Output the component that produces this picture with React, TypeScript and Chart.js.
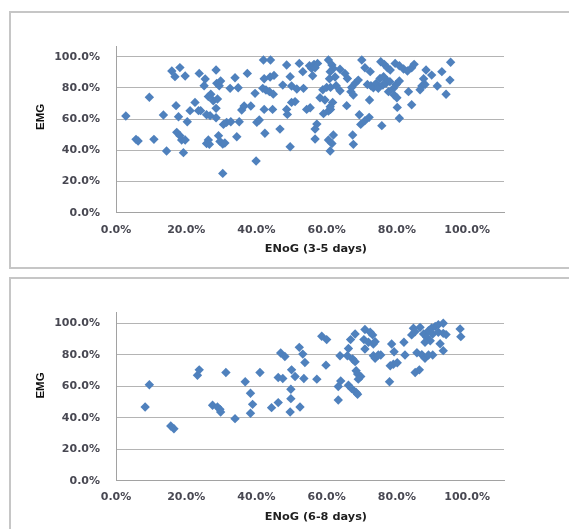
import React, { useEffect, useRef } from "react";
import { Chart, registerables } from "chart.js";

Chart.register(...registerables);

// ENoG (3-5 days) vs EMG
const enog35: number[] = [
  0.028, 0.057, 0.063, 0.095, 0.108, 0.135, 0.144, 0.159, 0.168, 0.182, 0.197, 0.171, 0.178, 0.173, 0.182, 0.187, 0.197, 0.192, 0.203, 0.211,
  0.225, 0.235, 0.241, 0.237, 0.254, 0.251, 0.263, 0.27, 0.258, 0.268, 0.263, 0.258, 0.266, 0.285, 0.287, 0.294, 0.298, 0.277, 0.289, 0.285,
  0.285, 0.292, 0.296, 0.304, 0.31, 0.304, 0.306, 0.315, 0.327, 0.325, 0.339, 0.348, 0.344, 0.351, 0.358, 0.365, 0.384, 0.374, 0.396, 0.401,
  0.408, 0.399, 0.42, 0.44, 0.422, 0.439, 0.45, 0.418, 0.427, 0.437, 0.448, 0.422, 0.446, 0.424, 0.467, 0.475, 0.486, 0.496, 0.486, 0.488,
  0.496, 0.5, 0.51, 0.5, 0.515, 0.534, 0.522, 0.532, 0.543, 0.553, 0.551, 0.564, 0.574, 0.557, 0.567, 0.56, 0.572, 0.567, 0.567, 0.581,
  0.595, 0.589, 0.6, 0.591, 0.605, 0.611, 0.605, 0.615, 0.619, 0.61, 0.608, 0.624, 0.638, 0.611, 0.627, 0.638, 0.617, 0.61, 0.605, 0.615,
  0.619, 0.61, 0.652, 0.659, 0.657, 0.669, 0.676, 0.671, 0.681, 0.69, 0.674, 0.676, 0.693, 0.697, 0.709, 0.721, 0.7, 0.709, 0.724, 0.716,
  0.726, 0.733, 0.741, 0.722, 0.757, 0.754, 0.764, 0.773, 0.781, 0.752, 0.762, 0.771, 0.747, 0.76, 0.769, 0.78, 0.776, 0.79, 0.798, 0.807,
  0.792, 0.8, 0.801, 0.807, 0.795, 0.807, 0.819, 0.83, 0.842, 0.849, 0.833, 0.842, 0.866, 0.871, 0.88, 0.876, 0.883, 0.899, 0.915, 0.928,
  0.94, 0.953, 0.951,
];
const emg35: number[] = [
  0.62, 0.47, 0.46, 0.74, 0.47, 0.626, 0.395, 0.908, 0.872, 0.93, 0.876, 0.686, 0.615, 0.515, 0.494, 0.466, 0.466, 0.385, 0.583, 0.654,
  0.707, 0.654, 0.654, 0.893, 0.857, 0.814, 0.744, 0.759, 0.628, 0.622, 0.466, 0.444, 0.438, 0.915, 0.829, 0.814, 0.844, 0.718, 0.729, 0.669,
  0.609, 0.494, 0.457, 0.44, 0.447, 0.252, 0.566, 0.579, 0.583, 0.797, 0.865, 0.801, 0.487, 0.583, 0.658, 0.684, 0.684, 0.893, 0.765, 0.579,
  0.594, 0.331, 0.979, 0.979, 0.859, 0.87, 0.88, 0.797, 0.786, 0.776, 0.76, 0.662, 0.662, 0.509, 0.536, 0.818, 0.947, 0.872, 0.662, 0.63,
  0.423, 0.707, 0.712, 0.812, 0.793, 0.797, 0.957, 0.904, 0.662, 0.673, 0.942, 0.951, 0.957, 0.925, 0.929, 0.878, 0.568, 0.536, 0.472, 0.737,
  0.722, 0.788, 0.803, 0.635, 0.652, 0.662, 0.979, 0.947, 0.925, 0.904, 0.859, 0.87, 0.919, 0.803, 0.814, 0.782, 0.707, 0.679, 0.466, 0.444,
  0.498, 0.395, 0.893, 0.86, 0.686, 0.776, 0.754, 0.803, 0.829, 0.85, 0.498, 0.438, 0.628, 0.566, 0.59, 0.611, 0.979, 0.929, 0.904, 0.822,
  0.814, 0.801, 0.829, 0.722, 0.558, 0.968, 0.951, 0.929, 0.915, 0.86, 0.872, 0.85, 0.797, 0.818, 0.829, 0.84, 0.776, 0.797, 0.822, 0.844,
  0.754, 0.737, 0.675, 0.605, 0.957, 0.942, 0.921, 0.908, 0.929, 0.951, 0.776, 0.692, 0.788, 0.812, 0.822, 0.859, 0.915, 0.882, 0.812, 0.904,
  0.759, 0.964, 0.85,
];

// ENoG (6-8 days) vs EMG
const enog68: number[] = [
  0.083, 0.095, 0.156, 0.165, 0.232, 0.237, 0.275, 0.289, 0.296, 0.298, 0.313, 0.339, 0.368, 0.383, 0.389, 0.383, 0.41, 0.443, 0.462, 0.462,
  0.475, 0.469, 0.481, 0.496, 0.498, 0.498, 0.5, 0.51, 0.522, 0.532, 0.538, 0.524, 0.535, 0.572, 0.586, 0.6, 0.598, 0.633, 0.633, 0.64,
  0.638, 0.662, 0.671, 0.684, 0.688, 0.662, 0.668, 0.681, 0.659, 0.674, 0.681, 0.684, 0.688, 0.697, 0.69, 0.709, 0.724, 0.731, 0.706, 0.719,
  0.733, 0.738, 0.709, 0.733, 0.738, 0.747, 0.754, 0.779, 0.781, 0.79, 0.801, 0.785, 0.792, 0.82, 0.823, 0.842, 0.847, 0.852, 0.852, 0.857,
  0.864, 0.866, 0.876, 0.885, 0.895, 0.88, 0.871, 0.88, 0.89, 0.902, 0.89, 0.899, 0.909, 0.918, 0.932, 0.902, 0.918, 0.932, 0.94, 0.923,
  0.932, 0.98, 0.982,
];
const emg68: number[] = [
  0.468, 0.609, 0.347, 0.33, 0.67, 0.704, 0.479, 0.468, 0.453, 0.436, 0.687, 0.394, 0.628, 0.555, 0.485, 0.428, 0.687, 0.464, 0.496, 0.655,
  0.649, 0.811, 0.789, 0.436, 0.521, 0.581, 0.704, 0.662, 0.847, 0.804, 0.751, 0.468, 0.649, 0.645, 0.917, 0.896, 0.734, 0.513, 0.598, 0.634,
  0.794, 0.606, 0.585, 0.56, 0.549, 0.84, 0.896, 0.932, 0.794, 0.773, 0.756, 0.698, 0.677, 0.662, 0.645, 0.96, 0.943, 0.926, 0.896, 0.879,
  0.868, 0.883, 0.836, 0.794, 0.777, 0.798, 0.798, 0.628, 0.73, 0.74, 0.749, 0.868, 0.819, 0.879, 0.798, 0.926, 0.968, 0.947, 0.687, 0.813,
  0.704, 0.974, 0.932, 0.911, 0.889, 0.879, 0.8, 0.777, 0.798, 0.798, 0.953, 0.97, 0.979, 0.991, 1.0, 0.932, 0.943, 0.936, 0.928, 0.87,
  0.826, 0.964, 0.915,
];

// Axis ticks (shared by both axes of both charts)
const tickValues: number[] = [0, 0.2, 0.4, 0.6, 0.8, 1.0];

const yAxisTitle = "EMG";
const xTitleTop = "ENoG (3-5 days)";
const xTitleBottom = "ENoG (6-8 days)";

const MARKER = "#4F81BD";
const TICK_COLOR = "#484852";
const TITLE_COLOR = "#1e1e1e";
const GRID_COLOR = "#b4b4b4";
const AXIS_COLOR = "#a2a2a2";

const fmt = (v: number | string) => (Number(v) * 100).toFixed(1) + "%";

interface Geo {
  height: number;
  top: number;
  bottom: number;
  yMax: number;
  xTickPad: number;
  xTitlePadBottom: number;
  yTitleSpaces: number;
}

function makeConfig(xs: number[], ys: number[], xTitle: string, g: Geo): any {
  const data = xs.map((x, i) => ({ x, y: ys[i] }));
  const setTicks = (scale: any) => {
    scale.ticks = tickValues.map((v) => ({ value: v }));
  };
  return {
    type: "scatter",
    data: {
      datasets: [
        {
          data,
          pointStyle: "rectRot",
          pointRadius: 4.7,
          pointHoverRadius: 4.7,
          backgroundColor: MARKER,
          borderColor: MARKER,
          borderWidth: 0,
        },
      ],
    },
    options: {
      responsive: false,
      animation: false,
      events: [],
      layout: { padding: { left: 0, right: 65, top: g.top, bottom: 0 } },
      plugins: { legend: { display: false }, tooltip: { enabled: false } },
      scales: {
        x: {
          type: "linear",
          min: 0,
          max: 1.105,
          afterBuildTicks: setTicks,
          afterFit: (s: any) => {
            s.height = g.height - g.bottom;
          },
          grid: { display: false, drawTicks: false },
          border: { display: true, color: AXIS_COLOR, width: 1 },
          ticks: {
            autoSkip: false,
            maxRotation: 0,
            padding: g.xTickPad,
            color: TICK_COLOR,
            font: { family: "'DejaVu Sans', sans-serif", size: 11, weight: "bold" },
            callback: fmt,
          },
          title: {
            display: true,
            text: "\u00a0\u00a0\u00a0" + xTitle,
            color: TITLE_COLOR,
            font: { family: "'DejaVu Sans', sans-serif", size: 11.3, weight: "bold" },
            padding: { top: 0, bottom: g.xTitlePadBottom },
          },
        },
        y: {
          type: "linear",
          min: 0,
          max: g.yMax,
          afterBuildTicks: setTicks,
          afterFit: (s: any) => {
            s.width = 116;
          },
          grid: { display: true, color: GRID_COLOR, lineWidth: 1, drawTicks: false },
          border: { display: true, color: AXIS_COLOR, width: 1 },
          ticks: {
            autoSkip: false,
            padding: 16,
            color: TICK_COLOR,
            font: { family: "'DejaVu Sans', sans-serif", size: 11, weight: "bold" },
            callback: fmt,
          },
          title: {
            display: true,
            text: "\u00a0".repeat(g.yTitleSpaces) + yAxisTitle,
            color: "#111",
            font: { family: "'Liberation Sans Narrow', 'Liberation Sans', sans-serif", size: 11.5, weight: "bold" },
            padding: { top: 34, bottom: 0 },
          },
        },
      },
    },
  };
}

function ScatterPanel(props: { xs: number[]; ys: number[]; xTitle: string; g: Geo; top: number }) {
  const ref = useRef<HTMLCanvasElement | null>(null);
  useEffect(() => {
    if (!ref.current) return;
    const chart = new Chart(ref.current, makeConfig(props.xs, props.ys, props.xTitle, props.g));
    return () => chart.destroy();
  }, []);
  return (
    <canvas
      ref={ref}
      width={569}
      height={props.g.height}
      style={{ position: "absolute", left: 0, top: props.top, width: 569, height: props.g.height }}
    />
  );
}

const geoTop: Geo = { height: 270, top: 46.7, bottom: 212.7, yMax: 1.064, xTickPad: 10.5, xTitlePadBottom: 14, yTitleSpaces: 8 };
const geoBottom: Geo = { height: 259, top: 42.7, bottom: 210.7, yMax: 1.067, xTickPad: 9.5, xTitlePadBottom: 5.2, yTitleSpaces: 7 };

export default function App() {
  const panelBase: React.CSSProperties = {
    position: "absolute",
    left: 9,
    width: 620,
    boxSizing: "border-box",
    border: "2px solid #c6c6c6",
    background: "#fff",
  };
  return (
    <div style={{ position: "fixed", left: 0, top: 0, width: 569, height: 529, overflow: "hidden", background: "#fff" }}>
      <div style={{ ...panelBase, top: 11, height: 258 }} />
      <div style={{ ...panelBase, top: 277, height: 300 }} />
      <ScatterPanel xs={enog35} ys={emg35} xTitle={xTitleTop} g={geoTop} top={0} />
      <ScatterPanel xs={enog68} ys={emg68} xTitle={xTitleBottom} g={geoBottom} top={270} />
    </div>
  );
}
